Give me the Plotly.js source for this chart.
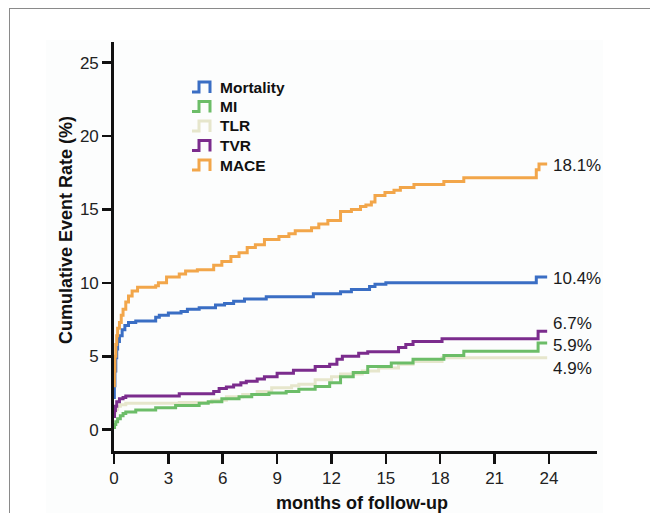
<!DOCTYPE html>
<html>
<head>
<meta charset="utf-8">
<script src="https://cdn.plot.ly/plotly-3.0.1.min.js"></script>
<style>
  html, body { margin: 0; padding: 0; background: #ffffff; }
  #frame { position: absolute; left: 9px; top: 8px; width: 660px; height: 520px;
           border-top: 1px solid #8a8a8a; border-left: 1px solid #8a8a8a; }
  #panel { position: absolute; left: 46px; top: 40px; width: 557px; height: 473px; background: #fcfdfd; }
  #chart { position: absolute; left: 0; top: 0; width: 650px; height: 513px; }
</style>
</head>
<body>
<div id="frame"></div>
<div id="panel"></div>
<div id="chart"></div>
<script>
// ---- data (months of follow-up, cumulative event rate %) ----
const seriesNames = ['TLR', 'MI', 'TVR', 'Mortality', 'MACE'];

const tlrX = [0, 0.03, 0.1, 0.2, 0.35, 0.65, 3.6, 5.4, 6.2, 7.1, 7.9, 8.7, 9.8, 10.2, 11.1, 12.0, 12.5, 13.7, 14.6, 15.7, 16.5, 18.1, 23.9];
const tlrY = [1.0, 1.2, 1.4, 1.6, 1.7, 1.8, 1.85, 2.0, 2.25, 2.4, 2.6, 2.85, 3.0, 3.1, 3.4, 3.6, 3.8, 4.0, 4.2, 4.45, 4.65, 4.9, 4.9];

const miX = [0, 0.03, 0.1, 0.2, 0.35, 0.5, 0.65, 1.2, 2.3, 3.4, 4.7, 5.2, 5.95, 6.9, 7.6, 8.55, 9.5, 10.2, 11.1, 11.9, 12.5, 13.2, 14.0, 15.3, 16.5, 18.2, 19.3, 23.4, 23.9];
const miY = [0.15, 0.35, 0.55, 0.75, 0.95, 1.1, 1.2, 1.35, 1.5, 1.65, 1.8, 1.9, 2.1, 2.25, 2.4, 2.5, 2.6, 2.75, 2.95, 3.2, 3.6, 3.9, 4.3, 4.55, 4.8, 5.05, 5.35, 5.9, 5.9];

const tvrX = [0, 0.03, 0.08, 0.15, 0.3, 0.5, 0.65, 3.6, 5.5, 5.8, 6.2, 6.6, 7.0, 7.3, 7.9, 8.3, 9.0, 9.9, 11.1, 11.9, 12.3, 12.6, 13.5, 14.0, 15.7, 16.1, 16.5, 18.1, 23.4, 23.9];
const tvrY = [0.9, 1.3, 1.6, 1.9, 2.1, 2.2, 2.3, 2.45, 2.6, 2.8, 2.9, 3.05, 3.2, 3.3, 3.45, 3.6, 3.85, 4.05, 4.3, 4.45, 4.8, 5.0, 5.2, 5.3, 5.6, 5.8, 6.0, 6.2, 6.7, 6.7];

const mortX = [0, 0.02, 0.05, 0.1, 0.15, 0.2, 0.3, 0.45, 0.6, 0.8, 1.2, 2.3, 2.5, 3.0, 3.7, 4.05, 4.7, 5.6, 6.1, 6.6, 7.2, 8.4, 11.0, 12.5, 13.1, 14.1, 14.4, 15.0, 23.3, 23.9];
const mortY = [2.2, 3.0, 4.0, 4.9, 5.5, 6.0, 6.4, 6.8, 7.1, 7.3, 7.4, 7.65, 7.8, 7.95, 8.05, 8.2, 8.3, 8.5, 8.6, 8.75, 8.9, 9.05, 9.25, 9.4, 9.55, 9.75, 9.9, 10.0, 10.4, 10.4];

const maceX = [0, 0.02, 0.05, 0.1, 0.15, 0.2, 0.3, 0.4, 0.5, 0.65, 0.8, 1.0, 1.3, 2.3, 2.45, 2.9, 3.6, 3.95, 4.6, 5.5, 5.95, 6.45, 6.9, 7.35, 7.8, 8.3, 9.1, 9.65, 10.0, 10.9, 11.3, 11.8, 12.5, 13.1, 13.6, 13.9, 14.2, 14.4, 14.95, 15.45, 15.8, 16.55, 18.2, 19.3, 23.3, 23.45, 23.9];
const maceY = [3.0, 4.0, 5.0, 5.8, 6.4, 6.9, 7.3, 7.8, 8.2, 8.7, 9.1, 9.45, 9.7, 9.8, 10.0, 10.4, 10.6, 10.8, 10.9, 11.2, 11.45, 11.8, 12.05, 12.4, 12.6, 12.95, 13.15, 13.35, 13.55, 13.75, 14.0, 14.25, 14.85, 15.0, 15.2, 15.3, 15.5, 15.95, 16.15, 16.3, 16.5, 16.7, 16.9, 17.15, 17.7, 18.1, 18.1];

const finalLabels = ['4.9%', '5.9%', '6.7%', '10.4%', '18.1%'];
const legendOrder = ['Mortality', 'MI', 'TLR', 'TVR', 'MACE'];
const xTickVals = [0, 3, 6, 9, 12, 15, 18, 21, 24];
const yTickVals = [0, 5, 10, 15, 20, 25];
const xTitle = 'months of follow-up';
const yTitle = 'Cumulative Event Rate (%)';

// ---- styles ----
const colors = { 'TLR': '#e6e6cc', 'MI': '#6cbd68', 'TVR': '#7b2c8d', 'Mortality': '#3a6ec4', 'MACE': '#f2a64a' };
const labelShift = [-11, -2, 8, -2, -2];

const xs = [tlrX, miX, tvrX, mortX, maceX];
const ys = [tlrY, miY, tvrY, mortY, maceY];

const traces = seriesNames.map((n, i) => ({
  type: 'scatter', mode: 'lines', name: n, x: xs[i], y: ys[i],
  line: { shape: 'hv', width: 3, color: colors[n] }, showlegend: false, hoverinfo: 'skip'
}));

// plot area in px
const L = 114, R = 597, T = 42, B = 451;
const px2x = p => (p - L) / (R - L);
const px2y = p => (B - p) / (B - T);

const annotations = [];
const shapes = [];
const FONT = '"Liberation Sans", Arial, Helvetica, sans-serif';

seriesNames.forEach((n, i) => {
  const xv = xs[i], yv = ys[i];
  annotations.push({
    x: xv[xv.length - 1], y: yv[yv.length - 1], xref: 'x', yref: 'y',
    text: finalLabels[i], showarrow: false, xanchor: 'left', yanchor: 'middle',
    xshift: 4, yshift: labelShift[i], font: { family: FONT, size: 17, color: '#1a1a1a' }
  });
});

// custom legend with step icons
legendOrder.forEach((n, k) => {
  const cy = 87 + k * 19.5;
  const p = `M ${px2x(192)},${px2y(cy + 5)} L ${px2x(199)},${px2y(cy + 5)} L ${px2x(199)},${px2y(cy - 5)} L ${px2x(210)},${px2y(cy - 5)} L ${px2x(210)},${px2y(cy + 6)}`;
  shapes.push({ type: 'path', xref: 'paper', yref: 'paper', path: p, line: { color: colors[n], width: 3 } });
  annotations.push({
    x: px2x(218), y: px2y(cy), xref: 'paper', yref: 'paper', text: '<b>' + n + '</b>',
    showarrow: false, xanchor: 'left', yanchor: 'middle', font: { family: FONT, size: 15.5, color: '#111' }
  });
});

annotations.push({
  x: px2x(66), y: px2y(230), xref: 'paper', yref: 'paper', text: '<b>' + yTitle + '</b>',
  textangle: -90, showarrow: false, xanchor: 'center', yanchor: 'middle',
  font: { family: FONT, size: 18, color: '#111' }
});
annotations.push({
  x: px2x(362), y: px2y(503), xref: 'paper', yref: 'paper', text: '<b>' + xTitle + '</b>',
  showarrow: false, xanchor: 'center', yanchor: 'middle',
  font: { family: FONT, size: 18, color: '#111' }
});

const layout = {
  width: 650, height: 513,
  margin: { l: L, r: 650 - R, t: T, b: 513 - B, pad: 0 },
  paper_bgcolor: 'rgba(0,0,0,0)', plot_bgcolor: 'rgba(0,0,0,0)',
  showlegend: false,
  xaxis: {
    range: [0, 26.65], tickvals: xTickVals, ticktext: xTickVals.map(String),
    showline: true, linecolor: '#111', linewidth: 2.8, ticks: 'outside', ticklen: 10, tickwidth: 2.5, tickcolor: '#111',
    showgrid: false, zeroline: false, tickfont: { family: FONT, size: 17, color: '#222' }, fixedrange: true
  },
  yaxis: {
    range: [-1.45, 26.4], tickvals: yTickVals, ticktext: yTickVals.map(String),
    showline: true, linecolor: '#111', linewidth: 2.8, ticks: 'outside', ticklen: 9, tickwidth: 2.5, tickcolor: '#111',
    showgrid: false, zeroline: false, tickfont: { family: FONT, size: 17, color: '#222' }, fixedrange: true
  },
  annotations: annotations,
  shapes: shapes
};

Plotly.newPlot('chart', traces, layout, { displayModeBar: false, staticPlot: true });
</script>
</body>
</html>
